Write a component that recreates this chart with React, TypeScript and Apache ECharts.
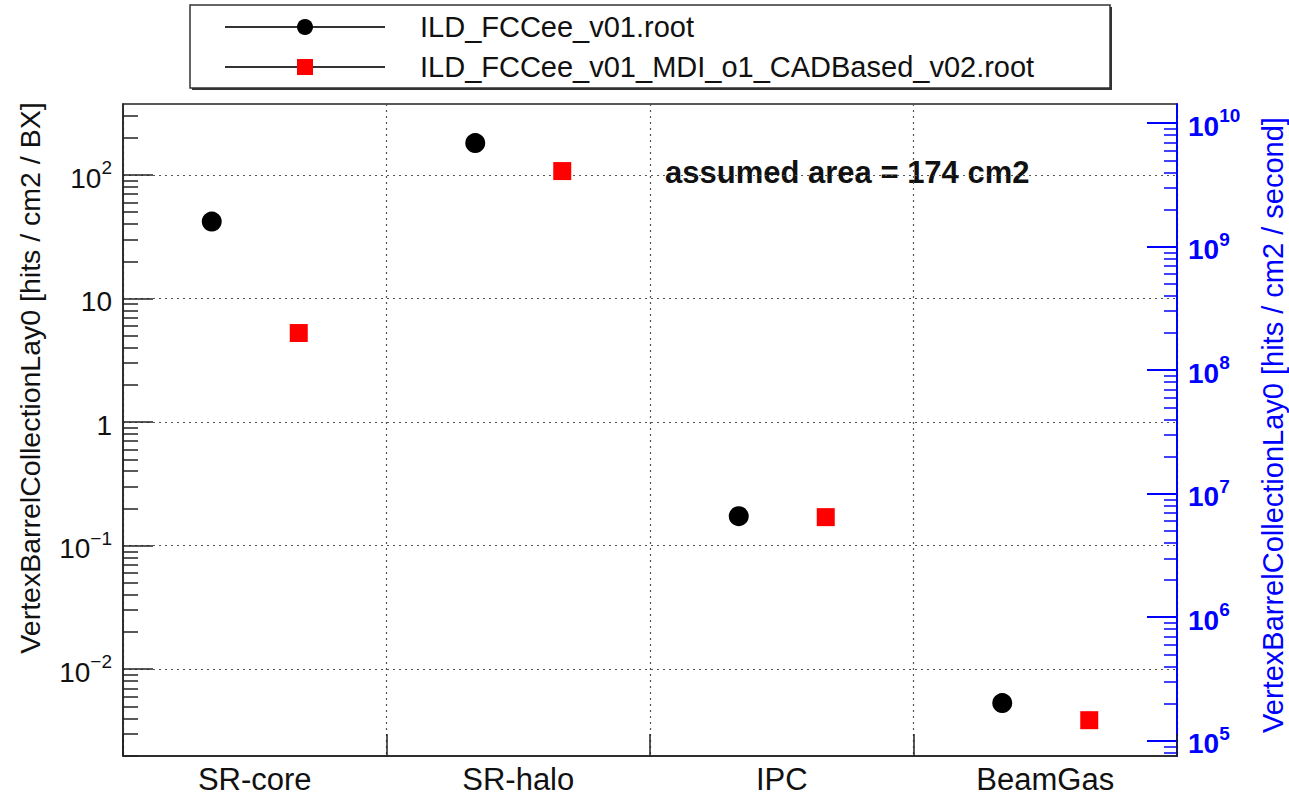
import { useEffect, useRef } from "react";
import * as echarts from "echarts";

// Hit densities per background source, in hits / cm2 / BX
const categories = ["SR-core", "SR-halo", "IPC", "BeamGas"];
const seriesNames = ["ILD_FCCee_v01.root", "ILD_FCCee_v01_MDI_o1_CADBased_v02.root"];
const ildValues = [42.0, 181.5, 0.173, 0.00531];
const mdiValues = [5.26, 107.7, 0.17, 0.00386];

// Axis layout
const leftDecades = [0.01, 0.1, 1, 10, 100];
const rightDecades = [1e5, 1e6, 1e7, 1e8, 1e9, 1e10];
const leftRange = [0.00198, 376];
const bxPerSecond = 3.8e7;
const rightRange = [leftRange[0] * bxPerSecond, leftRange[1] * bxPerSecond];

const leftTitle = "VertexBarrelCollectionLay0 [hits / cm2 / BX]";
const rightTitle = "VertexBarrelCollectionLay0 [hits / cm2 / second]";
const annotation = "assumed area = 174 cm2";

const FONT = "'Liberation Sans', Arial, Helvetica, sans-serif";
const BLUE = "#0000ff";
const INK = "#111";

function minorTicks(lo: number, hi: number): number[] {
  const out: number[] = [];
  for (let e = Math.floor(Math.log10(lo)); e <= Math.ceil(Math.log10(hi)); e++) {
    for (let m = 2; m <= 9; m++) {
      const v = parseFloat((m * Math.pow(10, e)).toPrecision(6));
      if (v >= lo && v <= hi) out.push(v);
    }
  }
  return out;
}

function powerLabel(v: number, key: string): string {
  const e = Math.round(Math.log10(v));
  if (e === 0) return `{${key}|1}`;
  if (e === 1) return `{${key}|10}`;
  const exp = e < 0 ? "\u2212" + -e : String(e);
  return `{${key}|10}{${key}Sup|${exp}}`;
}

const dotted = [2, 4];

function buildOption(): echarts.EChartsOption {
  const minorAxis = (position: "left" | "right", range: number[], len: number, color: string) => ({
    type: "log" as const,
    position,
    min: range[0],
    max: range[1],
    axisLine: { show: false },
    axisLabel: { show: false },
    splitLine: { show: false },
    axisTick: {
      show: true,
      inside: true,
      length: len,
      customValues: minorTicks(range[0], range[1]),
      lineStyle: { color, width: 1.5 },
    },
  });

  return {
    animation: false,
    backgroundColor: "#fff",
    grid: {
      left: 123,
      right: 112,
      top: 104,
      bottom: 41,
      show: true,
      borderColor: "#222",
      borderWidth: 1.5,
      backgroundColor: "#fff",
      outerBoundsMode: "none",
    } as any,
    xAxis: {
      type: "category",
      data: categories,
      boundaryGap: true,
      axisLine: { lineStyle: { color: "#222", width: 1.5 } },
      axisTick: { show: true, inside: true, length: 22, interval: 0, lineStyle: { color: "#222", width: 1.5 } },
      axisLabel: { interval: 0, margin: 8, fontSize: 31, fontFamily: FONT, color: INK },
      splitLine: { show: true, interval: 0, lineStyle: { color: "#555", width: 1.2, type: dotted } },
    },
    yAxis: [
      {
        type: "log",
        position: "left",
        min: leftRange[0],
        max: leftRange[1],
        axisLine: { show: true, lineStyle: { color: "#222", width: 1.5 } },
        axisTick: {
          show: true,
          inside: true,
          length: 30,
          customValues: leftDecades,
          lineStyle: { color: "#222", width: 1.5 },
        },
        axisLabel: {
          customValues: leftDecades,
          margin: 11,
          formatter: (v: number) => powerLabel(v, "b"),
          rich: {
            b: { fontSize: 28, fontFamily: FONT, color: INK, padding: [6, 0, 0, 0] },
            bSup: { fontSize: 19, fontFamily: FONT, color: INK, verticalAlign: "top" },
          },
        },
        splitLine: { show: true, lineStyle: { color: "#555", width: 1.2, type: dotted } },
      } as any,
      minorAxis("left", leftRange, 15, "#222"),
      {
        type: "log",
        position: "right",
        min: rightRange[0],
        max: rightRange[1],
        axisLine: { show: true, lineStyle: { color: BLUE, width: 2 } },
        axisTick: {
          show: true,
          inside: true,
          length: 30,
          customValues: rightDecades,
          lineStyle: { color: BLUE, width: 2 },
        },
        axisLabel: {
          customValues: rightDecades,
          margin: 11,
          formatter: (v: number) => powerLabel(v, "r"),
          rich: {
            r: { fontSize: 28, fontWeight: "bold", fontFamily: FONT, color: BLUE, padding: [6, 0, 0, 0] },
            rSup: { fontSize: 19, fontWeight: "bold", fontFamily: FONT, color: BLUE, verticalAlign: "top" },
          },
        },
        splitLine: { show: false },
      } as any,
      minorAxis("right", rightRange, 13, BLUE),
    ],
    series: [
      {
        name: seriesNames[0],
        type: "scatter",
        xAxisIndex: 0,
        yAxisIndex: 0,
        data: ildValues,
        symbol: "circle",
        symbolSize: 20,
        symbolOffset: [-43, 0],
        itemStyle: { color: "#000", opacity: 1 },
        z: 5,
      },
      {
        name: seriesNames[1],
        type: "scatter",
        xAxisIndex: 0,
        yAxisIndex: 0,
        data: mdiValues,
        symbol: "rect",
        symbolSize: 18,
        symbolOffset: [44, 0],
        itemStyle: { color: "#ff0000", opacity: 1 },
        z: 5,
      },
    ],
    graphic: [
      // legend box with drop shadow
      { type: "rect", silent: true, shape: { x: 192, y: 7, width: 920, height: 83 }, style: { fill: "#333" } },
      {
        type: "rect",
        silent: true,
        shape: { x: 190, y: 5, width: 920, height: 83 },
        style: { fill: "#fff", stroke: "#333", lineWidth: 1.5 },
      },
      { type: "line", silent: true, shape: { x1: 225, y1: 27, x2: 385, y2: 27 }, style: { stroke: "#333", lineWidth: 2 } },
      { type: "circle", silent: true, shape: { cx: 305, cy: 27, r: 8 }, style: { fill: "#000" } },
      {
        type: "text",
        silent: true,
        x: 420,
        y: 27,
        style: { text: seriesNames[0], fontSize: 29, fontFamily: FONT, fill: INK, align: "left", verticalAlign: "middle" },
      },
      { type: "line", silent: true, shape: { x1: 225, y1: 67, x2: 385, y2: 67 }, style: { stroke: "#333", lineWidth: 2 } },
      { type: "rect", silent: true, shape: { x: 297, y: 59, width: 16, height: 16 }, style: { fill: "#ff0000" } },
      {
        type: "text",
        silent: true,
        x: 420,
        y: 67,
        style: { text: seriesNames[1], fontSize: 29, fontFamily: FONT, fill: INK, align: "left", verticalAlign: "middle" },
      },
      // annotation
      {
        type: "text",
        silent: true,
        x: 665,
        y: 172,
        style: {
          text: annotation,
          fontSize: 31,
          fontWeight: "bold",
          fontFamily: FONT,
          fill: INK,
          align: "left",
          verticalAlign: "middle",
        },
      },
      // axis titles
      {
        type: "text",
        silent: true,
        x: 30,
        y: 378,
        rotation: Math.PI / 2,
        style: { text: leftTitle, fontSize: 28.5, fontFamily: FONT, fill: INK, align: "center", verticalAlign: "middle" },
      },
      {
        type: "text",
        silent: true,
        x: 1273,
        y: 425,
        rotation: Math.PI / 2,
        style: { text: rightTitle, fontSize: 29, fontFamily: FONT, fill: BLUE, align: "center", verticalAlign: "middle" },
      },
    ],
  } as any;
}

export default function App() {
  const ref = useRef<HTMLDivElement>(null);
  useEffect(() => {
    document.body.style.margin = "0";
    const chart = echarts.init(ref.current!, null, { renderer: "svg" });
    chart.setOption(buildOption());
    return () => chart.dispose();
  }, []);
  return <div ref={ref} style={{ width: 1289, height: 797, background: "#fff" }} />;
}
